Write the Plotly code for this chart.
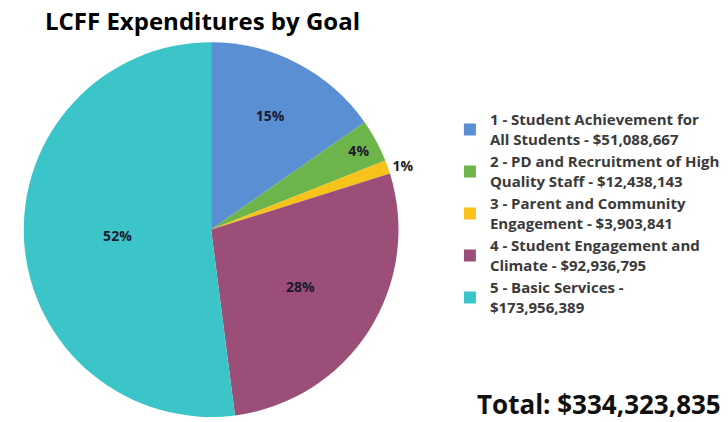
import plotly.graph_objects as go

goals = [
    "1 - Student Achievement for<br>All Students - $51,088,667",
    "2 - PD and Recruitment of High<br>Quality Staff - $12,438,143",
    "3 - Parent and Community<br>Engagement - $3,903,841",
    "4 - Student Engagement and<br>Climate - $92,936,795",
    "5 - Basic Services -<br>$173,956,389",
]
amounts = [51088667, 12438143, 3903841, 92936795, 173956389]
colors = ["#5B8FD4", "#6DB44A", "#F7C21A", "#9B4F78", "#3CC5C8"]
text_pos = ["inside", "inside", "outside", "inside", "inside"]
title_text = "LCFF Expenditures by Goal"
total_text = "Total: $334,323,835"

FONT = "Open Sans"

fig = go.Figure(
    go.Pie(
        labels=goals,
        values=amounts,
        sort=False,
        direction="clockwise",
        rotation=0,
        marker=dict(colors=colors, line=dict(width=0)),
        texttemplate="%{percent:.0%}",
        textposition=text_pos,
        insidetextorientation="horizontal",
        textfont=dict(family=FONT, size=14, color="#1a1a2e", weight="bold"),
        outsidetextfont=dict(family=FONT, size=14, color="#222222", weight="bold"),
        domain=dict(x=[0.030, 0.550], y=[0.012, 0.900]),
        hoverinfo="label+percent",
    )
)

fig.update_layout(
    width=728,
    height=422,
    margin=dict(l=0, r=0, t=0, b=0),
    paper_bgcolor="white",
    plot_bgcolor="white",
    showlegend=True,
    legend=dict(
        x=0.618,
        y=0.755,
        xanchor="left",
        yanchor="top",
        font=dict(family=FONT, size=15, color="#3a3a3a", weight="bold"),
        bgcolor="rgba(0,0,0,0)",
        itemwidth=30,
    ),
    title=dict(
        text=title_text, x=45 / 728, xanchor="left", xref="paper",
        y=1 - 22 / 422, yanchor="middle", yref="container",
        font=dict(family=FONT, size=24, color="black", weight="bold"),
    ),
    annotations=[
        dict(
            text=total_text, x=1 - 5 / 728, y=1 - 404 / 422, xref="paper", yref="paper",
            xanchor="right", yanchor="middle", showarrow=False,
            font=dict(family=FONT, size=26, color="#111111", weight="bold"),
        ),
    ],
)

fig.write_html("out.html")
